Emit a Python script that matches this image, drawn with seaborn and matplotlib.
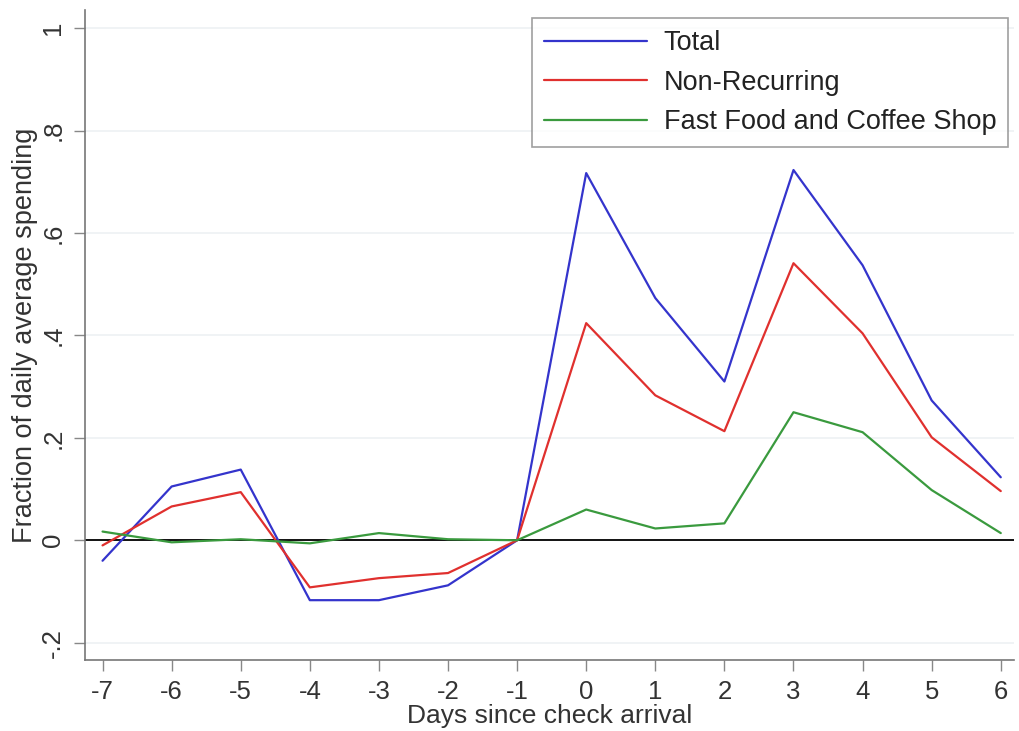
import numpy as np
import pandas as pd
import matplotlib
matplotlib.use("Agg")
import matplotlib.pyplot as plt
import seaborn as sns

# -----------------------------
# Data
# -----------------------------
days = [-7, -6, -5, -4, -3, -2, -1, 0, 1, 2, 3, 4, 5, 6]
total = [-0.04, 0.105, 0.138, -0.117, -0.117, -0.088, 0.0,
         0.717, 0.473, 0.31, 0.723, 0.537, 0.273, 0.123]
non_recurring = [-0.01, 0.066, 0.094, -0.092, -0.074, -0.064, 0.0,
                 0.424, 0.283, 0.213, 0.541, 0.404, 0.201, 0.096]
fast_food = [0.017, -0.004, 0.002, -0.006, 0.014, 0.002, 0.0,
             0.06, 0.023, 0.033, 0.25, 0.211, 0.098, 0.014]

series_names = ["Total", "Non-Recurring", "Fast Food and Coffee Shop"]
colors = ["#3434cc", "#e0302e", "#3a9a3e"]
y_ticks = [-0.2, 0, 0.2, 0.4, 0.6, 0.8, 1]
y_labels = ["-.2", "0", ".2", ".4", ".6", ".8", "1"]

df = pd.DataFrame({
    "day": days * 3,
    "value": total + non_recurring + fast_food,
    "series": sum([[n] * len(days) for n in series_names], []),
})

# -----------------------------
# Plot
# -----------------------------
sns.set_style("white")
plt.rcParams["font.family"] = ["Liberation Sans", "DejaVu Sans"]

fig = plt.figure(figsize=(10.19, 7.31), dpi=100)
ax = fig.add_axes([0.083, 0.097, 0.912, 0.889])

for y in y_ticks:
    ax.axhline(y, color="#eef1f3", lw=1.2, zorder=0)
ax.axhline(0, color="black", lw=1.3, zorder=1)

sns.lineplot(data=df, x="day", y="value", hue="series", hue_order=series_names,
             palette=colors, linewidth=1.6, ax=ax, zorder=2)

ax.set_xlim(-7.26, 6.19)
ax.set_ylim(-0.234, 1.035)
ax.set_xticks(days)
ax.set_xticklabels([str(d) for d in days], fontsize=18.5, color="#333333")
ax.set_yticks(y_ticks)
ax.set_yticklabels(y_labels, fontsize=18.5, rotation=90, va="center", color="#333333")
ax.tick_params(axis="both", direction="out", length=8, width=1, color="#888888",
               bottom=True, left=True, pad=6)

ax.set_xlabel("Days since check arrival", fontsize=19, color="#333333", labelpad=0)
ax.set_ylabel("Fraction of daily average spending", fontsize=19.5, color="#333333", labelpad=2)

for side in ["top", "right"]:
    ax.spines[side].set_visible(False)
for side in ["left", "bottom"]:
    ax.spines[side].set_color("#777777")
    ax.spines[side].set_linewidth(1.2)

leg = ax.legend(loc="upper right", bbox_to_anchor=(0.994, 0.988), borderaxespad=0,
                fontsize=19.5, frameon=True, fancybox=False, edgecolor="#888888",
                handlelength=3.8, borderpad=0.45, labelspacing=0.5, handletextpad=0.6)
leg.get_frame().set_linewidth(1.2)
for t in leg.get_texts():
    t.set_color("#222222")

fig.savefig("out.png", dpi=100)
